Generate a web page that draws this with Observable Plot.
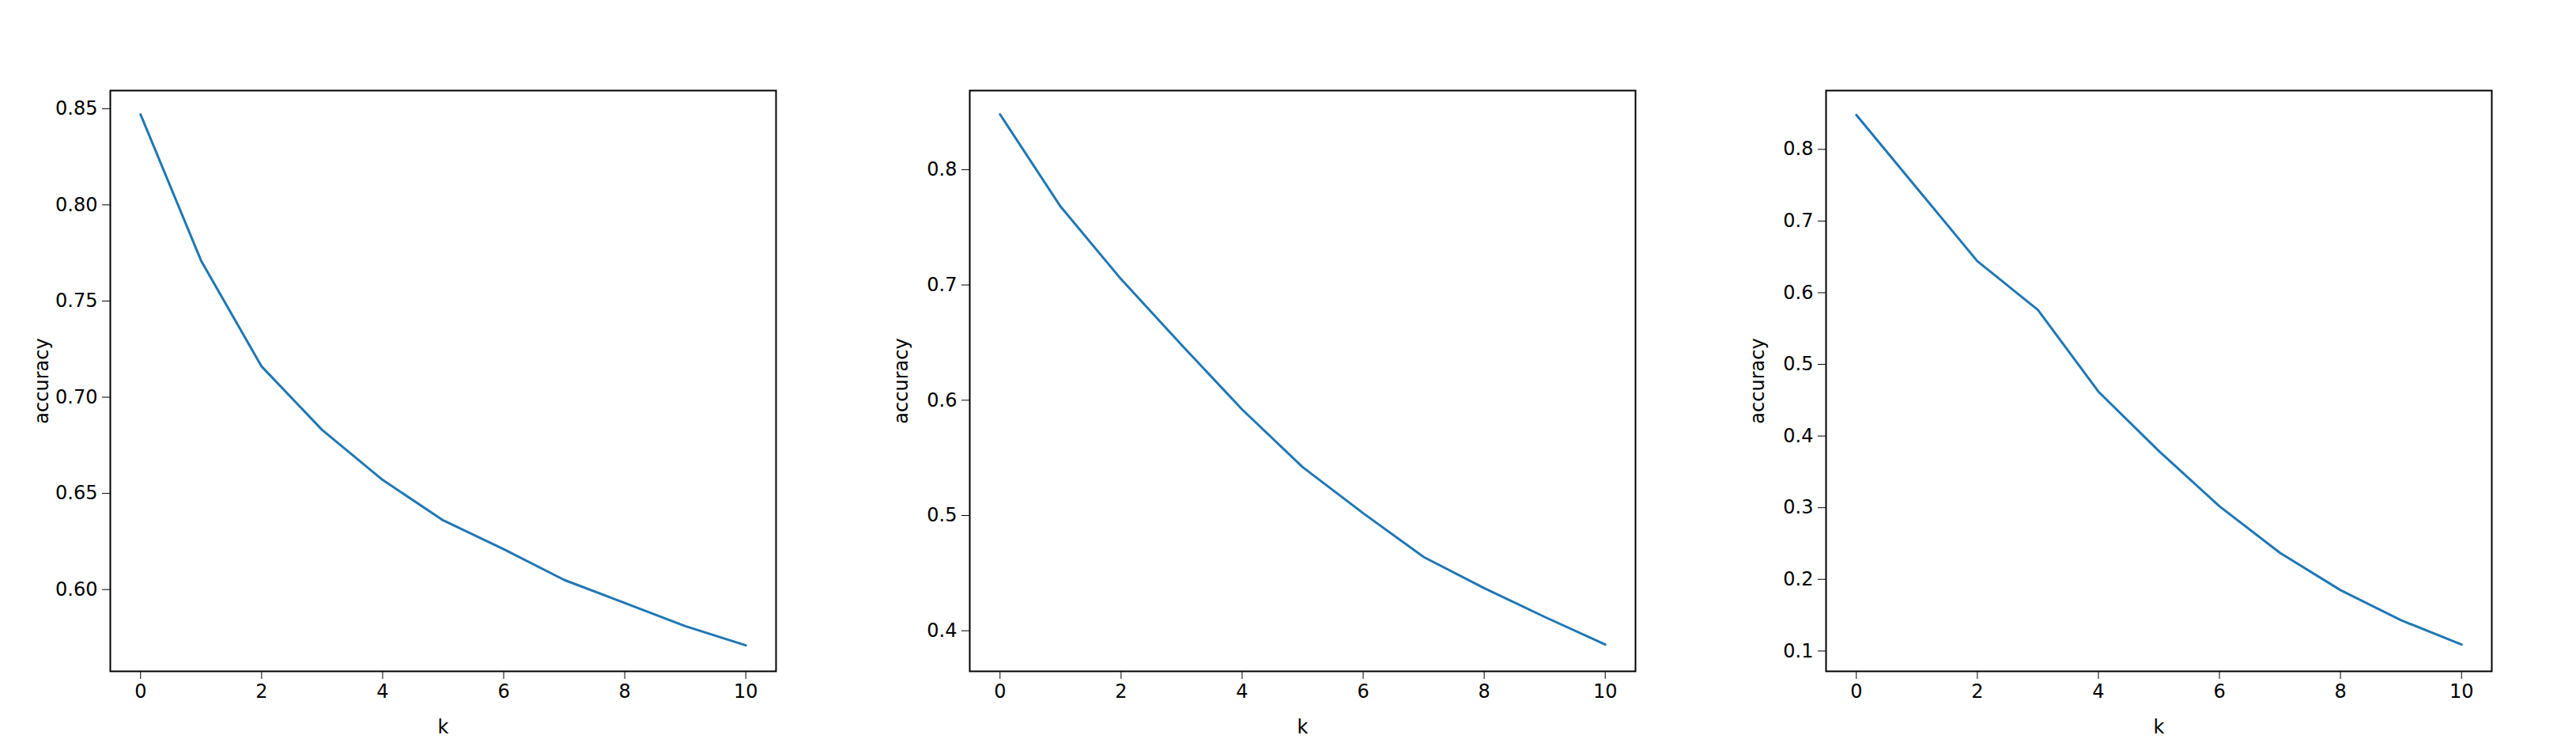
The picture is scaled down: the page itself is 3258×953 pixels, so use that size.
<!DOCTYPE html>
<html>
<head>
<meta charset="utf-8">
<script src="https://cdn.jsdelivr.net/npm/d3@7"></script>
<script src="https://cdn.jsdelivr.net/npm/@observablehq/plot@0.6"></script>
<style>
  body { margin: 0; background: white; }
  #wrap { position: relative; width: 3258px; height: 953px; }
  .panel { position: absolute; top: 0; }
</style>
</head>
<body>
<div id="wrap"></div>
<script>
const ks = [0, 1, 2, 3, 4, 5, 6, 7, 8, 9, 10]
const acc1 = [0.847, 0.771, 0.716, 0.683, 0.657, 0.636, 0.621, 0.605, 0.593, 0.581, 0.571]
const acc2 = [0.848, 0.768, 0.705, 0.648, 0.592, 0.542, 0.502, 0.464, 0.437, 0.412, 0.388]
const acc3 = [0.848, 0.746, 0.644, 0.576, 0.462, 0.379, 0.302, 0.237, 0.185, 0.143, 0.109]
const yTicks1 = [0.60, 0.65, 0.70, 0.75, 0.80, 0.85]
const yTicks2 = [0.4, 0.5, 0.6, 0.7, 0.8]
const yTicks3 = [0.1, 0.2, 0.3, 0.4, 0.5, 0.6, 0.7, 0.8]
const xTicks = [0, 2, 4, 6, 8, 10]

const panels = [
  { left: 0, ml: 139, vals: acc1, dom: [0.5575, 0.8594], ticks: yTicks1, fmt: ".2f" },
  { left: 1086, ml: 140, vals: acc2, dom: [0.3648, 0.8686], ticks: yTicks2, fmt: ".1f" },
  { left: 2172, ml: 137, vals: acc3, dom: [0.0717, 0.882], ticks: yTicks3, fmt: ".1f" },
]

panels.forEach(p => {
  const data = ks.map((k, i) => ({ k, acc: p.vals[i] }))
  const chart = Plot.plot({
    width: p.ml + 842 + 10,
    height: 953,
    marginLeft: p.ml,
    marginRight: 10,
    marginTop: 114,
    marginBottom: 105,
    x: { domain: [-0.5, 10.5], label: null },
    y: { domain: p.dom, label: null },
    style: { fontFamily: "DejaVu Sans, sans-serif", fontSize: "24px", color: "black", background: "white" },
    marks: [
      Plot.frame({ stroke: "black", strokeWidth: 2 }),
      Plot.axisX({ ticks: xTicks, tickSize: 10, tickPadding: 6, tickFormat: d3.format("d"),
        label: "k", labelAnchor: "center", labelArrow: "none", labelOffset: 78 }),
      Plot.axisY({ ticks: p.ticks, tickSize: 10, tickPadding: 6, tickFormat: d3.format(p.fmt),
        label: "accuracy", labelAnchor: "center", labelArrow: "none", labelOffset: 96 }),
      Plot.line(data, { x: "k", y: "acc", stroke: "#1f77b4", strokeWidth: 3 })
    ]
  })
  const div = d3.select("#wrap").append("div").attr("class", "panel").style("left", p.left + "px")
  div.append(() => chart)
})
</script>
</body>
</html>
